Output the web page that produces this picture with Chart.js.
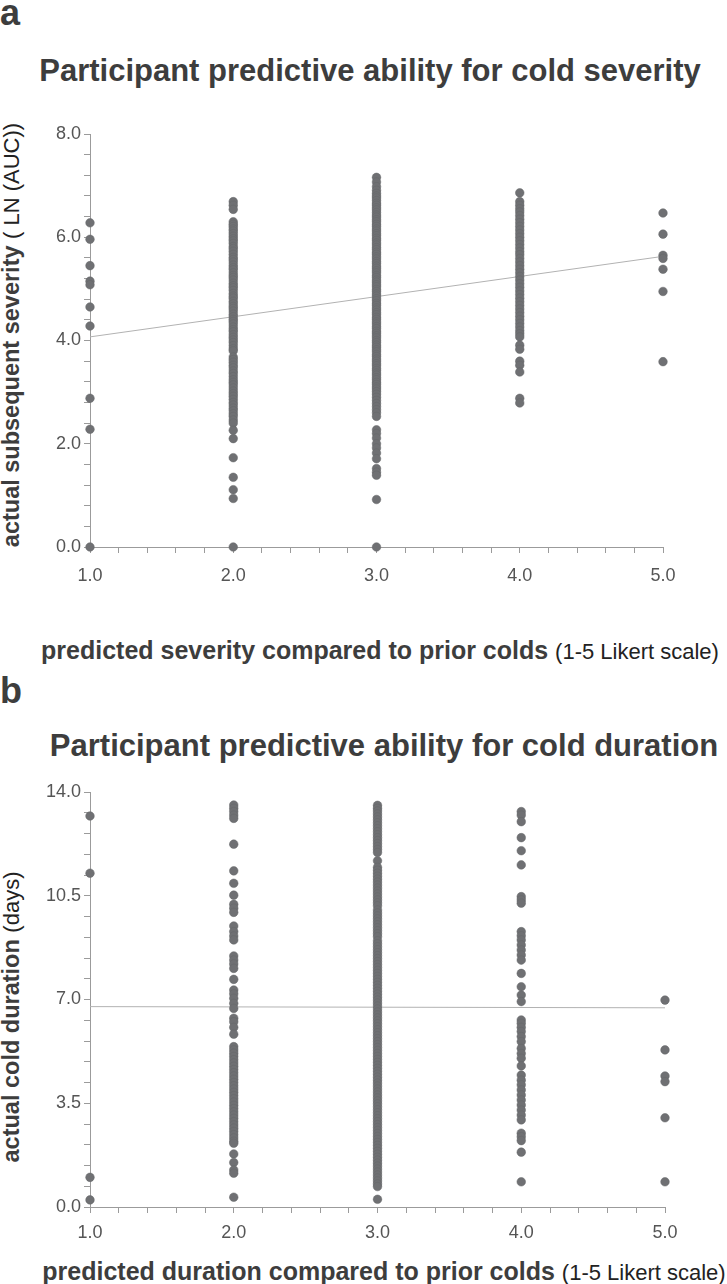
<!DOCTYPE html>
<html>
<head>
<meta charset="utf-8">
<script src="https://cdn.jsdelivr.net/npm/chart.js@4.4.1/dist/chart.umd.min.js"></script>
<style>
  html, body { margin: 0; padding: 0; background: #fff; }
  body { width: 727px; height: 1284px; position: relative; overflow: hidden; font-family: "Liberation Sans", Arial, sans-serif; color: #3d3d3d; }
  .abs { position: absolute; white-space: nowrap; }
  .panel-letter { font-size: 36px; font-weight: bold; line-height: 1; }
  .title { font-size: 31px; font-weight: bold; line-height: 1; transform: translateX(-50%); }
  .ytitle { font-size: 23.5px; font-weight: bold; line-height: 1; transform: translate(-50%, -50%) rotate(-90deg); }
  .xtitle { font-size: 25px; font-weight: bold; line-height: 1; transform: translate(-50%, -50%); }
  .light { font-weight: normal; color: #222; }
  .ytitle .light { font-size: 22px; }
  .xtitle .light { font-size: 22px; }
  canvas { position: absolute; left: 0; }
</style>
</head>
<body>
<div class="abs panel-letter" style="left:0;top:-5px;">a</div>
<div class="abs title" style="left:370px;top:55px;">Participant predictive ability for cold severity</div>
<div class="abs ytitle" style="left:12px;top:335px;">actual subsequent severity <span class="light">( LN (AUC))</span></div>
<div class="abs xtitle" style="left:380px;top:650px;">predicted severity compared to prior colds <span class="light">(1-5 Likert scale)</span></div>
<canvas id="severityChart" style="top:110px;" width="727" height="490"></canvas>

<div class="abs panel-letter" style="left:0;top:673px;">b</div>
<div class="abs title" style="left:384px;top:730px;">Participant predictive ability for cold duration</div>
<div class="abs ytitle" style="left:12px;top:1017px;">actual cold duration <span class="light">(days)</span></div>
<div class="abs xtitle" style="left:384px;top:1271px;">predicted duration compared to prior colds <span class="light">(1-5 Likert scale)</span></div>
<canvas id="durationChart" style="top:770px;" width="727" height="470"></canvas>

<script>
// Likert categories (x) and observed values (y) for each column
const likert = [1, 2, 3, 4, 5];

const severity1 = [6.28, 5.96, 5.45, 5.15, 5.08, 4.65, 4.28, 2.88, 2.28, 0.00];
const severity2 = [6.69, 6.62, 6.54, 6.30, 6.25, 6.21, 6.16, 6.12, 6.07, 6.02, 5.97, 5.93, 5.88, 5.82, 5.78, 5.73, 5.67, 5.61, 5.57, 5.52,
  5.46, 5.41, 5.37, 5.31, 5.26, 5.22, 5.17, 5.11, 5.06, 5.02, 4.97, 4.91, 4.86, 4.82, 4.76, 4.71, 4.66, 4.62, 4.57, 4.51,
  4.46, 4.41, 4.37, 4.32, 4.26, 4.21, 4.17, 4.11, 4.06, 4.01, 3.96, 3.90, 3.84, 3.80, 3.68, 3.63, 3.58, 3.52, 3.47, 3.41,
  3.36, 3.30, 3.24, 3.19, 3.14, 3.08, 3.02, 2.97, 2.92, 2.86, 2.80, 2.75, 2.69, 2.64, 2.58, 2.53, 2.46, 2.40, 2.26, 2.10,
  1.73, 1.35, 1.11, 0.94, 0.00];
const severity3 = [7.16, 7.07, 6.98, 6.91, 6.85, 6.80, 6.76, 6.71, 6.66, 6.62, 6.57, 6.53, 6.48, 6.43, 6.39, 6.34, 6.30, 6.25, 6.21, 6.16,
  6.12, 6.07, 6.03, 5.98, 5.94, 5.89, 5.85, 5.80, 5.76, 5.71, 5.67, 5.62, 5.58, 5.53, 5.49, 5.44, 5.40, 5.35, 5.31, 5.26,
  5.22, 5.17, 5.13, 5.08, 5.04, 4.99, 4.95, 4.90, 4.86, 4.81, 4.77, 4.72, 4.68, 4.63, 4.59, 4.54, 4.50, 4.45, 4.41, 4.36,
  4.32, 4.27, 4.23, 4.18, 4.14, 4.09, 4.05, 4.00, 3.96, 3.91, 3.87, 3.82, 3.78, 3.73, 3.69, 3.64, 3.60, 3.55, 3.51, 3.46,
  3.42, 3.37, 3.33, 3.28, 3.24, 3.19, 3.15, 3.10, 3.06, 3.01, 2.96, 2.90, 2.84, 2.78, 2.72, 2.66, 2.60, 2.53, 2.27, 2.20,
  2.11, 2.00, 1.92, 1.82, 1.71, 1.52, 1.45, 1.39, 0.92, 0.00];
const severity4 = [6.86, 6.69, 6.62, 6.55, 6.49, 6.42, 6.35, 6.28, 6.21, 6.14, 6.07, 6.00, 5.93, 5.86, 5.79, 5.72, 5.66, 5.59, 5.52, 5.45,
  5.38, 5.31, 5.24, 5.17, 5.10, 5.03, 4.96, 4.89, 4.82, 4.75, 4.68, 4.61, 4.54, 4.47, 4.40, 4.33, 4.26, 4.19, 4.13, 4.07,
  3.91, 3.83, 3.60, 3.52, 3.39, 2.88, 2.79];
const severity5 = [6.47, 6.06, 5.65, 5.59, 5.38, 4.95, 3.59];
const severityFit = [4.07, 5.63]; // at likert 1 and 5

const duration1 = [13.19, 11.26, 1.00, 0.24];
const duration2 = [13.56, 13.45, 13.34, 13.22, 13.11, 12.24, 11.34, 10.92, 10.52, 10.21, 10.08, 9.94, 9.48, 9.29, 9.14, 9.01, 8.47, 8.33, 8.20, 8.05,
  7.68, 7.32, 7.19, 7.04, 6.87, 6.70, 6.37, 6.25, 6.06, 5.83, 5.41, 5.30, 5.19, 5.08, 4.97, 4.86, 4.75, 4.64, 4.53, 4.42,
  4.31, 4.20, 4.09, 3.98, 3.87, 3.76, 3.65, 3.54, 3.43, 3.32, 3.21, 3.10, 2.99, 2.88, 2.77, 2.66, 2.55, 2.44, 2.33, 2.22,
  2.15, 1.79, 1.50, 1.25, 1.14, 0.33];
const duration3 = [13.55, 13.45, 13.36, 13.26, 13.16, 13.06, 12.96, 12.86, 12.76, 12.66, 12.56, 12.46, 12.36, 12.26, 12.16, 12.06, 11.96, 11.68, 11.46, 11.36,
  11.26, 11.16, 11.06, 10.96, 10.86, 10.76, 10.66, 10.56, 10.46, 10.36, 10.26, 10.16, 10.02, 9.92, 9.82, 9.72, 9.62, 9.52, 9.42, 9.32,
  9.22, 9.12, 8.98, 8.88, 8.78, 8.68, 8.58, 8.48, 8.38, 8.28, 8.18, 8.08, 7.98, 7.88, 7.78, 7.68, 7.58, 7.48, 7.38, 7.28,
  7.18, 7.08, 6.98, 6.88, 6.78, 6.68, 6.58, 6.48, 6.38, 6.28, 6.18, 6.08, 5.98, 5.88, 5.78, 5.68, 5.58, 5.48, 5.38, 5.28,
  5.18, 5.08, 4.98, 4.88, 4.78, 4.68, 4.58, 4.48, 4.38, 4.28, 4.18, 4.08, 3.98, 3.88, 3.78, 3.68, 3.58, 3.48, 3.38, 3.28,
  3.18, 3.08, 2.98, 2.88, 2.78, 2.68, 2.58, 2.48, 2.38, 2.28, 2.18, 2.08, 1.98, 1.88, 1.78, 1.68, 1.58, 1.48, 1.38, 1.28,
  1.18, 1.08, 0.98, 0.88, 0.78, 0.69, 0.26];
const duration4 = [13.34, 13.22, 13.00, 12.46, 12.02, 11.54, 10.47, 10.36, 10.25, 9.29, 9.15, 9.01, 8.84, 8.67, 8.50, 8.33, 7.88, 7.43, 7.15, 6.93,
  6.31, 6.20, 6.06, 5.92, 5.75, 5.58, 5.35, 5.18, 5.02, 4.76, 4.45, 4.28, 4.12, 3.95, 3.78, 3.61, 3.44, 3.27, 3.10, 2.94,
  2.49, 2.37, 2.24, 1.85, 0.85];
const duration5 = [6.98, 5.30, 4.42, 4.23, 3.01, 0.85];
const durationFit = [6.76, 6.72];

const AXIS = "#9b9b9b";
const DOT = "#6f7073";

function toPoints(columns) {
  const pts = [];
  columns.forEach((col, i) => col.forEach((v) => pts.push({ x: likert[i], y: v })));
  return pts;
}

function isMultiple(v, step) {
  return Math.abs(v / step - Math.round(v / step)) < 1e-6;
}

function makeChart(id, opts) {
  return new Chart(document.getElementById(id), {
    type: "scatter",
    data: {
      datasets: [
        {
          type: "line",
          data: [{ x: likert[0], y: opts.fit[0] }, { x: likert[4], y: opts.fit[1] }],
          borderColor: "#b2b2b2",
          borderWidth: 1,
          pointRadius: 0,
          order: 2,
        },
        {
          data: toPoints(opts.columns),
          backgroundColor: DOT,
          borderColor: "#656669",
          borderWidth: 0.5,
          pointRadius: 4.3,
          clip: false,
          order: 1,
        },
      ],
    },
    options: {
      responsive: false,
      animation: false,
      layout: { padding: { top: opts.padTop, right: opts.padRight, left: 0, bottom: 0 } },
      plugins: { legend: { display: false }, tooltip: { enabled: false } },
      scales: {
        x: {
          type: "linear",
          min: 1,
          max: 5,
          afterFit: (s) => { s.height = opts.xHeight; },
          border: { display: true, color: AXIS, width: 1 },
          grid: { drawOnChartArea: false, drawTicks: true, tickLength: 6, color: AXIS, tickColor: AXIS },
          ticks: {
            stepSize: 0.2,
            autoSkip: false,
            maxRotation: 0,
            padding: opts.xPad,
            color: "#555",
            font: { family: "'Liberation Sans', Arial, sans-serif", size: 18 },
            callback: (v) => (isMultiple(v, 1) ? v.toFixed(1) : ""),
          },
        },
        y: {
          type: "linear",
          min: 0,
          max: opts.yMax,
          afterFit: (s) => { s.width = 90; },
          border: { display: true, color: AXIS, width: 1 },
          grid: { drawOnChartArea: false, drawTicks: true, tickLength: 6, color: AXIS, tickColor: AXIS },
          ticks: {
            stepSize: opts.yMinor,
            autoSkip: false,
            padding: 3,
            color: "#555",
            font: { family: "'Liberation Sans', Arial, sans-serif", size: 18 },
            callback: (v) => (isMultiple(v, opts.yMajor) ? v.toFixed(1) : ""),
          },
        },
      },
    },
  });
}

makeChart("severityChart", {
  columns: [severity1, severity2, severity3, severity4, severity5],
  fit: severityFit,
  yMax: 8, yMinor: 0.4, yMajor: 2,
  padTop: 24, padRight: 64, xHeight: 53, xPad: 12,
});

makeChart("durationChart", {
  columns: [duration1, duration2, duration3, duration4, duration5],
  fit: durationFit,
  yMax: 14, yMinor: 0.7, yMajor: 3.5,
  padTop: 22, padRight: 62, xHeight: 33, xPad: 9,
});
</script>
</body>
</html>
